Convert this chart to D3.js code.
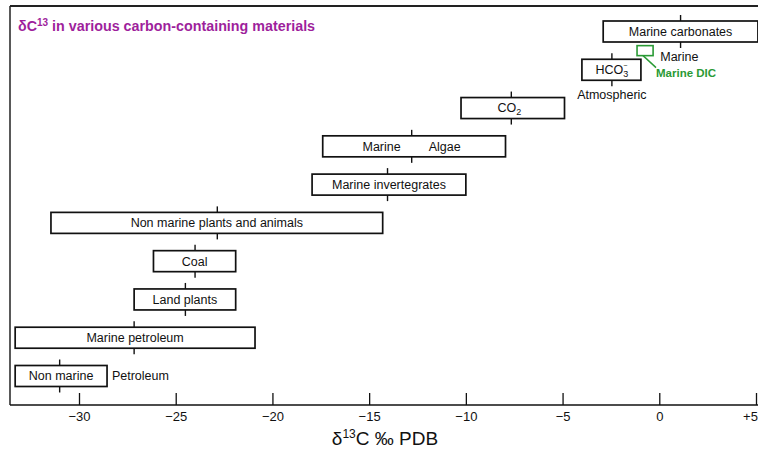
<html>
<head>
<meta http-equiv="content-type" content="text/html; charset=UTF8">
<title>delta C13 ranges</title>
<script src="https://cdnjs.cloudflare.com/ajax/libs/d3/7.8.5/d3.min.js"></script>
<style type="text/css">
body { margin: 0; padding: 0; overflow: hidden; background: #fff; }
svg { font-family: "Liberation Sans", Arial, sans-serif; }
.box rect { fill: #fff; stroke: #111; stroke-width: 1.7; }
.box line { stroke: #111; stroke-width: 1.4; }
.box text { font-size: 12.5px; fill: #111; }
.axis text { font-size: 13px; fill: #111; }
.axis line { stroke: #111; stroke-width: 1.3; }
</style>
</head>
<body>
<div id="chart"></div>
<script type="text/javascript">

// ranges of delta 13C (per mil PDB), one row per material, top to bottom
var categories = ["Marine carbonates", "HCO3", "CO2", "Marine|Algae", "Marine invertegrates",
    "Non marine plants and animals", "Coal", "Land plants", "Marine petroleum", "Non marine"];
var lowValues  = [-2.9, -4.0, -10.25, -17.4, -17.95, -31.45, -26.15, -27.15, -33.3, -33.3];
var highValues = [5.1, -0.95, -4.9, -7.95, -10.0, -14.3, -21.9, -21.9, -20.9, -28.55];
var midValues  = [1.1, -2.45, -7.65, -12.8, -14.05, -22.85, -24.0, -24.5, -27.15, -31.0];

// marine dissolved inorganic carbon, drawn in green between the first two rows
var dicRange = [-1.15, -0.32];

var tickValues = [-30, -25, -20, -15, -10, -5, 0, 5];

// free text next to the boxes: value where it starts, row it sits on
var notes = [
    {text: "Marine", v: 0.05, row: 0.66, anchor: "start"},
    {text: "Atmospheric", v: -2.45, row: 1.66, anchor: "middle"},
    {text: "Petroleum", v: -28.3, row: 9, anchor: "start"}
];

(function(){
    var width = 758, height = 449;
    var axisY = 405, left = 10, top = 6;

    var svg = d3.select("#chart").append("svg")
        .attr("width", width)
        .attr("height", height);

    var x = d3.scaleLinear().domain([-30, 5]).range([79, 756]);
    var y = d3.scaleLinear().domain([0, 9]).range([31.5, 376]);
    var boxH = 21;

    // frame
    svg.append("line").attr("x1", left).attr("x2", width).attr("y1", top).attr("y2", top)
        .attr("stroke", "#222").attr("stroke-width", 2);
    svg.append("line").attr("x1", left).attr("x2", left).attr("y1", top).attr("y2", axisY)
        .attr("stroke", "#222").attr("stroke-width", 1.5);
    svg.append("line").attr("x1", left).attr("x2", width).attr("y1", axisY).attr("y2", axisY)
        .attr("stroke", "#111").attr("stroke-width", 1.6);

    var axis = d3.axisBottom(x)
        .tickValues(tickValues)
        .tickSizeInner(-12)
        .tickSizeOuter(0)
        .tickPadding(7)
        .tickFormat(function(d){ return d > 0 ? "+" + d : d3.format("")(d); });

    var gAxis = svg.append("g")
        .attr("class", "axis")
        .attr("transform", "translate(0," + axisY + ")")
        .call(axis);
    gAxis.select(".domain").remove();
    gAxis.selectAll("text")
        .attr("font-family", "\"Liberation Sans\", Arial, sans-serif")
        .attr("dx", function(d){ return d > 0 ? -6 : 0; });

    // title
    var title = svg.append("text")
        .attr("x", 18).attr("y", 31)
        .attr("fill", "#9e1f9c")
        .style("font-size", "14.3px")
        .style("font-weight", "bold");
    title.append("tspan").text("\u03b4C");
    title.append("tspan").attr("dy", -5).style("font-size", "10px").text("13");
    title.append("tspan").attr("dy", 5).text(" in various carbon-containing materials");

    // axis title
    var xTitle = svg.append("text")
        .attr("x", 385).attr("y", 445)
        .attr("text-anchor", "middle")
        .attr("fill", "#111")
        .style("font-size", "19px")
        .style("font-family", "\"Liberation Sans Narrow\", \"Liberation Sans\", Arial, sans-serif");
    xTitle.append("tspan").text("\u03b4");
    xTitle.append("tspan").attr("dy", -7).style("font-size", "12px").text("13");
    xTitle.append("tspan").attr("dy", 7).text("C \u2030 PDB");

    var rows = categories.map(function(c, i){
        return {name: c, lo: lowValues[i], hi: highValues[i], mid: midValues[i], row: i};
    });

    var boxes = svg.selectAll("g.box")
        .data(rows)
        .enter().append("g")
        .attr("class", "box");

    boxes.append("line")
        .attr("x1", function(d){ return x(d.mid); })
        .attr("x2", function(d){ return x(d.mid); })
        .attr("y1", function(d){ return y(d.row) - boxH / 2 - 6; })
        .attr("y2", function(d){ return y(d.row) + boxH / 2 + 6; });

    boxes.append("rect")
        .attr("x", function(d){ return x(d.lo); })
        .attr("width", function(d){ return x(d.hi) - x(d.lo); })
        .attr("y", function(d){ return y(d.row) - boxH / 2; })
        .attr("height", boxH);

    boxes.each(function(d){
        var g = d3.select(this);
        var cx = (x(d.lo) + x(d.hi)) / 2, cy = y(d.row);
        var t;
        if (d.name === "HCO3") {
            t = g.append("text").attr("x", x(d.mid)).attr("y", cy).attr("dy", "0.35em").attr("text-anchor", "middle");
            t.append("tspan").text("HCO");
            t.append("tspan").attr("dy", 3).style("font-size", "9px").text("3");
            t.append("tspan").attr("dx", -5).attr("dy", -9).style("font-size", "7px").text("\u2212");
        } else if (d.name === "CO2") {
            t = g.append("text").attr("x", x(d.mid) - 2).attr("y", cy).attr("dy", "0.35em").attr("text-anchor", "middle");
            t.append("tspan").text("CO");
            t.append("tspan").attr("dy", 3).style("font-size", "9px").text("2");
        } else if (d.name.indexOf("|") >= 0) {
            var parts = d.name.split("|");
            g.append("text").attr("x", x(d.mid) - 11).attr("y", cy).attr("dy", "0.35em")
                .attr("text-anchor", "end").text(parts[0]);
            g.append("text").attr("x", x(d.mid) + 17).attr("y", cy).attr("dy", "0.35em")
                .attr("text-anchor", "start").text(parts[1]);
        } else {
            g.append("text").attr("x", cx).attr("y", cy).attr("dy", "0.35em")
                .attr("text-anchor", "middle").text(d.name);
        }
    });

    // notes beside boxes
    svg.selectAll("text.note")
        .data(notes)
        .enter().append("text")
        .attr("class", "note")
        .attr("x", function(d){ return x(d.v); })
        .attr("y", function(d){ return y(d.row); })
        .attr("dy", "0.35em")
        .attr("text-anchor", function(d){ return d.anchor; })
        .attr("fill", "#111")
        .style("font-size", "12.5px")
        .text(function(d){ return d.text; });

    // marine DIC marker
    var green = "#2a9a35";
    var dicY = y(0.5);
    svg.append("rect")
        .attr("x", x(dicRange[0]))
        .attr("y", dicY - 5)
        .attr("width", x(dicRange[1]) - x(dicRange[0]))
        .attr("height", 10)
        .attr("fill", "none")
        .attr("stroke", green)
        .attr("stroke-width", 1.6);
    svg.append("line")
        .attr("x1", x(dicRange[0]) + 6).attr("y1", dicY + 5)
        .attr("x2", x(dicRange[0]) + 19).attr("y2", dicY + 17)
        .attr("stroke", green).attr("stroke-width", 1.4);
    svg.append("text")
        .attr("x", x(dicRange[0]) + 19).attr("y", dicY + 22)
        .attr("dy", "0.35em")
        .attr("fill", green)
        .style("font-size", "11.5px")
        .style("font-weight", "bold")
        .text("Marine DIC");
})();

</script>
</body>
</html>
